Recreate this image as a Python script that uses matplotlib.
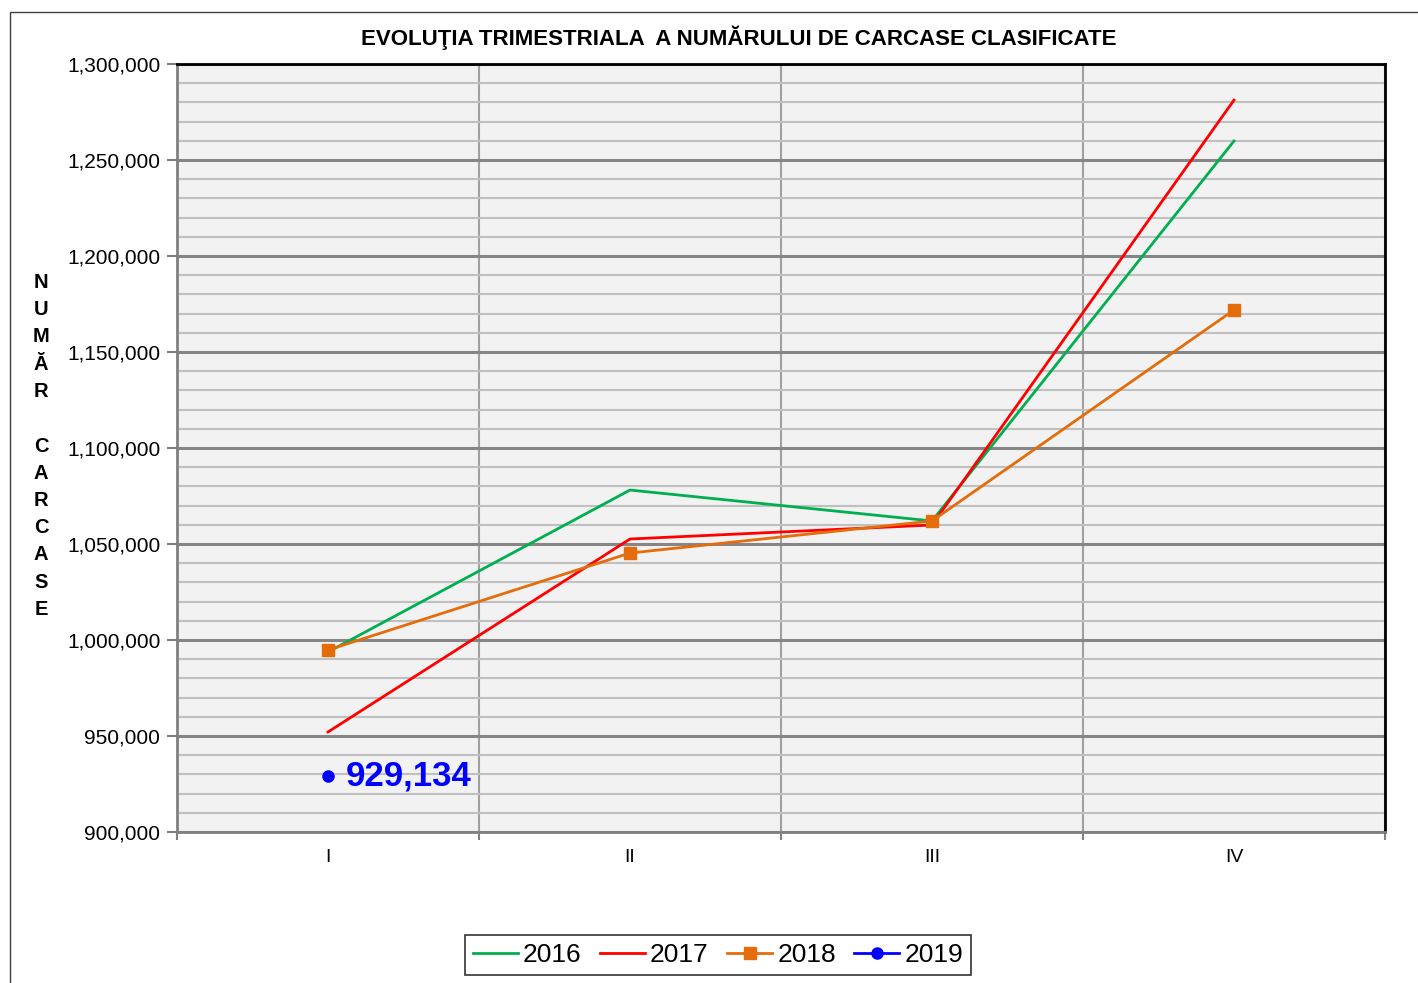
import matplotlib.pyplot as plt
from matplotlib.patches import Rectangle
from matplotlib.ticker import MultipleLocator, FuncFormatter, FixedLocator
import numpy as np

plt.rcParams['font.family'] = ['Liberation Sans', 'DejaVu Sans']

# data
quarters = ['I', 'II', 'III', 'IV']
v2016 = [993750, 1078100, 1062000, 1259900]
v2017 = [952100, 1052600, 1059900, 1281200]
v2018 = [994800, 1045300, 1062000, 1171900]
v2019 = [929134]

fig = plt.figure(figsize=(14.18, 9.83), dpi=100)
fig.patches.append(Rectangle((10 / 1418, -0.01), 1.2, (983 - 12) / 983 + 0.01,
                             transform=fig.transFigure, fill=False,
                             edgecolor='#404040', lw=1.0))

ax = fig.add_axes([177 / 1418, 151 / 983, 1208 / 1418, 768 / 983])
ax.set_facecolor('#f2f2f2')

x = np.arange(len(quarters))
ax.plot(x, v2016, color='#00b050', lw=2, label='2016')
ax.plot(x, v2017, color='#ff0000', lw=2, label='2017')
ax.plot(x, v2018, color='#e46c0a', lw=2, marker='s', ms=8, label='2018')
ax.plot(x[:len(v2019)], v2019, color='#0000ff', lw=2, marker='o', ms=8,
        label='2019')

ax.text(x[0] + 0.06, v2019[0], f'{v2019[0]:,}', color='#0000ff',
        fontsize=25, fontweight='bold', va='center', ha='left')

ax.set_xlim(-0.5, 3.5)
ax.set_ylim(900000, 1300000)
ax.yaxis.set_major_locator(MultipleLocator(50000))
ax.yaxis.set_minor_locator(MultipleLocator(10000))
ax.yaxis.set_major_formatter(FuncFormatter(lambda v, p: f'{int(v):,}'))
ax.set_xticks(x)
ax.set_xticklabels(quarters)
ax.xaxis.set_minor_locator(FixedLocator([-0.5, 0.5, 1.5, 2.5, 3.5]))

ax.grid(which='minor', axis='y', color='#c0c0c0', lw=1.5)
ax.grid(which='major', axis='y', color='#868686', lw=2.2)
ax.grid(which='minor', axis='x', color='#a0a0a0', lw=1.5)
ax.set_axisbelow(True)

ax.tick_params(axis='x', which='major', length=0, pad=12, labelsize=14)
ax.tick_params(axis='x', which='minor', length=6, color='#808080', width=1.5)
ax.tick_params(axis='y', which='major', length=7, color='#808080', width=1.5,
               labelsize=15, pad=5)
ax.tick_params(axis='y', which='minor', length=0)

for s in ['top', 'right']:
    ax.spines[s].set_color('black')
    ax.spines[s].set_linewidth(2)
for s in ['left', 'bottom']:
    ax.spines[s].set_color('#808080')
    ax.spines[s].set_linewidth(2)

fig.text(739 / 1418, 1 - 38 / 983,
         'EVOLUŢIA TRIMESTRIALA  A NUMĂRULUI DE CARCASE CLASIFICATE',
         ha='center', va='center', fontsize=16, fontweight='bold')

ylab = '\n'.join(list('NUMĂR')) + '\n\n' + '\n'.join(list('CARCASE'))
fig.text(41 / 1418, 1 - 446 / 983, ylab, ha='center', va='center',
         fontsize=14.5, fontweight='bold', linespacing=1.55)

leg = fig.legend(loc='center', bbox_to_anchor=(718 / 1418, 1 - 955 / 983),
                 ncol=4, fontsize=19, frameon=True, fancybox=False,
                 edgecolor='black', handlelength=1.7, handletextpad=0.2,
                 columnspacing=0.7, borderpad=0.3, borderaxespad=0)
leg.get_frame().set_linewidth(1.2)

plt.savefig('out.png', dpi=100)
